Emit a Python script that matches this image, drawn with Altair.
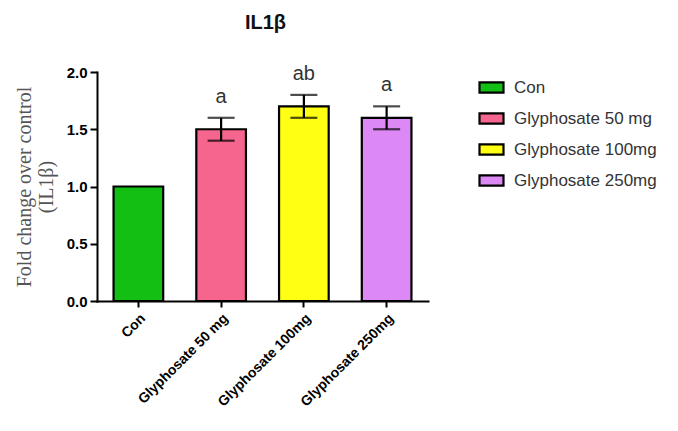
import altair as alt
import pandas as pd

groups = ["Con", "Glyphosate 50 mg", "Glyphosate 100mg", "Glyphosate 250mg"]
means = [1.0, 1.5, 1.7, 1.6]
errs = [0.0, 0.1, 0.1, 0.1]
letters = ["", "a", "ab", "a"]
colors = ["#12BF12", "#F5658D", "#FFFF14", "#DC88F5"]
y_ticks = [0.0, 0.5, 1.0, 1.5, 2.0]

df = pd.DataFrame({
    "group": groups,
    "mean": means,
    "err": errs,
    "letter": letters,
})
df["lo"] = df["mean"] - df["err"]
df["hi"] = df["mean"] + df["err"]

x_enc = alt.X(
    "group:N",
    sort=groups,
    scale=alt.Scale(paddingInner=0.4, paddingOuter=0.2),
    axis=alt.Axis(
        title=None,
        labelAngle=-45,
        labelFont="Liberation Sans",
        labelFontWeight="bold",
        labelFontSize=14,
        labelColor="#000000",
        labelPadding=4,
        labelOverlap=False,
        domainColor="#000000",
        domainWidth=2,
        tickColor="#000000",
        tickWidth=2,
        tickSize=6,
    ),
)

bars = alt.Chart(df).mark_bar(stroke="#000000", strokeWidth=2.2).encode(
    x=x_enc,
    y=alt.Y(
        "mean:Q",
        scale=alt.Scale(domain=[0, 2], nice=False),
        axis=alt.Axis(
            values=y_ticks,
            format=".1f",
            title=["Fold change over control", "(IL1β)"],
            titleFont="Liberation Serif",
            titleFontWeight="normal",
            titleFontSize=20,
            titleLineHeight=22,
            titleColor="#555555",
            titlePadding=10,
            labelFont="Liberation Sans",
            labelFontWeight="bold",
            labelFontSize=15,
            labelColor="#000000",
            labelPadding=3,
            domainColor="#000000",
            domainWidth=2,
            tickColor="#000000",
            tickWidth=2,
            tickSize=7,
            grid=False,
        ),
    ),
    color=alt.Color(
        "group:N",
        sort=groups,
        scale=alt.Scale(domain=groups, range=colors),
        legend=alt.Legend(
            title=None,
            orient="none",
            legendX=381,
            legendY=2,
            symbolType="M-1,-0.42H1V0.42H-1Z",
            symbolSize=576,
            symbolStrokeColor="#000000",
            symbolStrokeWidth=2.2,
            symbolOpacity=1,
            labelFont="Liberation Sans",
            labelFontSize=17,
            labelColor="#333333",
            labelOffset=9,
            rowPadding=8,
        ),
    ),
)

err_df = df[df["err"] > 0]

rules = alt.Chart(err_df).mark_rule(color="#000000", strokeWidth=2.2).encode(
    x=alt.X("group:N", sort=groups),
    y="lo:Q",
    y2="hi:Q",
)

caps_hi = alt.Chart(err_df).mark_tick(color="#000000", thickness=2.2, size=27).encode(
    x=alt.X("group:N", sort=groups),
    y="hi:Q",
)
caps_lo = alt.Chart(err_df).mark_tick(color="#000000", thickness=2.2, size=27).encode(
    x=alt.X("group:N", sort=groups),
    y="lo:Q",
)

labels = alt.Chart(err_df).mark_text(
    font="Liberation Sans", fontSize=20, color="#333333", dy=-21
).encode(
    x=alt.X("group:N", sort=groups),
    y="hi:Q",
    text="letter:N",
)

chart = alt.layer(bars, rules, caps_hi, caps_lo, labels).properties(
    width=331,
    height=229,
    autosize=alt.AutoSizeParams(type="none"),
    padding={"left": 89, "top": 64, "right": 242, "bottom": 110},
    title=alt.TitleParams(
        "IL1β",
        font="Liberation Sans",
        fontWeight="bold",
        fontSize=20,
        color="#111111",
        anchor="middle",
        offset=31,
        dx=3,
    ),
).configure_view(stroke=None).configure_axis(domainCap="square")

chart.save("out.html", embed_options={"renderer": "svg", "actions": False})
